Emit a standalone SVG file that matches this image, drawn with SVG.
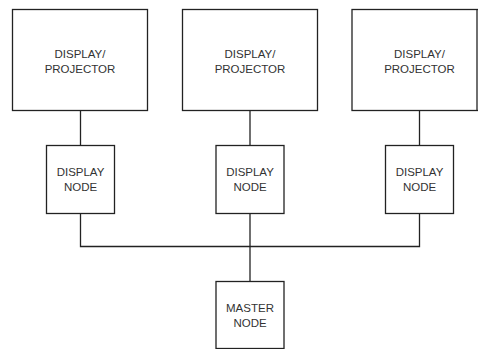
<svg xmlns="http://www.w3.org/2000/svg" width="478" height="349" viewBox="0 0 478 349">
  <style>
    .box { fill: #ffffff; stroke: #222222; stroke-width: 1.3; }
    .wire { fill: none; stroke: #222222; stroke-width: 1.3; }
    .lbl { font-family: "Liberation Sans", Arial, sans-serif; font-size: 11.5px; fill: #333333; text-anchor: middle; }
  </style>
  <rect width="478" height="349" fill="#ffffff"/>

  <!-- connectors -->
  <g id="connectors">
    <line class="wire" x1="80.5" y1="110.5" x2="80.5" y2="145.5"/>
    <line class="wire" x1="250" y1="110.5" x2="250" y2="145.5"/>
    <line class="wire" x1="419.5" y1="110.5" x2="419.5" y2="145.5"/>
    <polyline class="wire" points="80.5,213.5 80.5,246.5 419.5,246.5 419.5,213.5"/>
    <line class="wire" x1="250" y1="213.5" x2="250" y2="281.5"/>
  </g>

  <!-- displays / projectors -->
  <g id="projector-1">
    <rect class="box" x="12.5" y="9.5" width="135" height="101"/>
    <text class="lbl" x="80" y="57.5">DISPLAY/</text>
    <text class="lbl" x="80" y="72.5">PROJECTOR</text>
  </g>
  <g id="projector-2">
    <rect class="box" x="182.5" y="9.5" width="135" height="101"/>
    <text class="lbl" x="250" y="57.5">DISPLAY/</text>
    <text class="lbl" x="250" y="72.5">PROJECTOR</text>
  </g>
  <g id="projector-3">
    <rect class="box" x="352" y="9.5" width="135" height="101"/>
    <line class="wire" x1="477" y1="9.5" x2="477" y2="110.5"/>
    <text class="lbl" x="419.5" y="57.5">DISPLAY/</text>
    <text class="lbl" x="419.5" y="72.5">PROJECTOR</text>
  </g>

  <!-- display nodes -->
  <g id="display-node-1">
    <rect class="box" x="46.5" y="145.5" width="68" height="68"/>
    <text class="lbl" x="80.5" y="175.5">DISPLAY</text>
    <text class="lbl" x="80.5" y="190.5">NODE</text>
  </g>
  <g id="display-node-2">
    <rect class="box" x="216" y="145.5" width="68" height="68"/>
    <text class="lbl" x="250" y="175.5">DISPLAY</text>
    <text class="lbl" x="250" y="190.5">NODE</text>
  </g>
  <g id="display-node-3">
    <rect class="box" x="385.5" y="145.5" width="68" height="68"/>
    <text class="lbl" x="419.5" y="175.5">DISPLAY</text>
    <text class="lbl" x="419.5" y="190.5">NODE</text>
  </g>

  <!-- master node -->
  <g id="master-node">
    <rect class="box" x="216" y="281.5" width="68" height="67"/>
    <text class="lbl" x="250" y="312">MASTER</text>
    <text class="lbl" x="250" y="326.5">NODE</text>
  </g>
</svg>
